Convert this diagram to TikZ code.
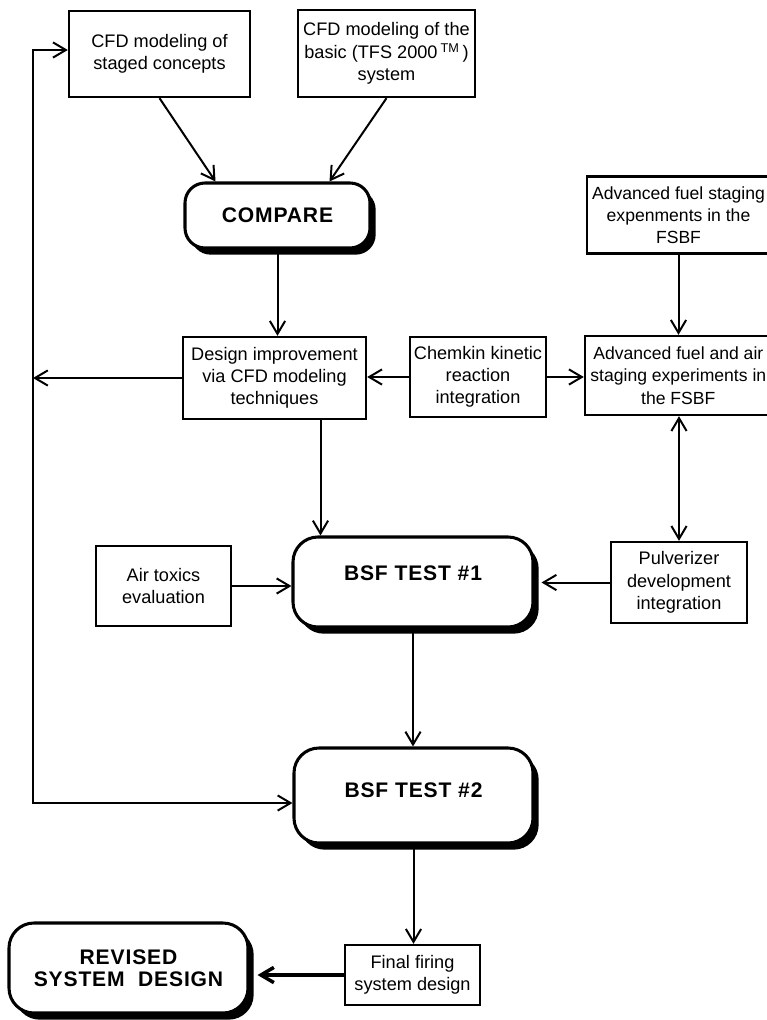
\documentclass[tikz,border=0pt]{standalone}
\usepackage{fontspec}
\setmainfont{Liberation Sans}
\usetikzlibrary{arrows.meta, calc, shadows}

\tikzset{
  box/.style={draw, line width=2pt, align=center, inner sep=2pt,
    font=\fontsize{15.5}{19}\selectfont},
  roundbox/.style={draw, line width=2.6pt, rounded corners=0.75cm, fill=white, align=center,
    font=\bfseries\fontsize{18}{19}\selectfont\addfontfeature{LetterSpace=4},
    drop shadow={shadow xshift=0.17cm, shadow yshift=-0.2cm, fill=black, opacity=1}},
  link/.style={line width=1.7pt, -{Straight Barb[length=11pt,width=13pt]}},
  dlink/.style={line width=1.7pt, {Straight Barb[length=11pt,width=13pt]}-{Straight Barb[length=11pt,width=13pt]}},
}

\begin{document}
\begin{tikzpicture}[x=0.03cm, y=-0.03cm]
  \useasboundingbox (0,0) rectangle (767,1020);
  \clip (0,0) rectangle (767,1020);

  \node[box, minimum width=5.43cm, minimum height=2.58cm] (staged) at (159.5,54) {CFD modeling of\\staged concepts};
  \node[box, minimum width=5.31cm, minimum height=2.61cm] (basic) at (386.5,53.5) {CFD modeling of the\\basic (TFS 2000\,\textsuperscript{TM}\,)\\system};
  \node[roundbox, rounded corners=0.6cm, minimum width=5.55cm, minimum height=1.95cm] (compare) at (277.5,215.5) {COMPARE};
  \node[box, minimum width=5.5cm, minimum height=2.3cm, font=\fontsize{15}{19}\selectfont] (fuelstage) at (678.5,215) {Advanced fuel staging\\expenments in the\\FSBF};

  \node[box, minimum width=5.49cm, minimum height=2.46cm] (design) at (274.5,378) {Design improvement\\via CFD modeling\\techniques};
  \node[box, minimum width=4.08cm, minimum height=2.4cm] (chemkin) at (478,377) {Chemkin kinetic\\reaction\\integration};
  \node[box, minimum width=5.6cm, minimum height=2.37cm, font=\fontsize{15}{19}\selectfont] (fuelair) at (678.3,375.5) {Advanced fuel and air\\staging experiments in\\the FSBF};

  \node[box, minimum width=4.05cm, minimum height=2.4cm] (toxics) at (163.5,586) {Air toxics\\evaluation};
  \node[roundbox, minimum width=7.2cm, minimum height=2.7cm, text depth=0.55cm] (test1) at (413,582) {BSF TEST \#1};
  \node[box, minimum width=4.08cm, minimum height=2.43cm] (pulv) at (679,582.5) {Pulverizer\\development\\integration};

  \node[roundbox, minimum width=7.17cm, minimum height=2.85cm, text depth=0.35cm] (test2) at (413.5,795.5) {BSF TEST \#2};

  \node[roundbox, minimum width=7.17cm, minimum height=2.7cm] (revised) at (128.5,968) {REVISED\\SYSTEM~~DESIGN};
  \node[box, minimum width=4.05cm, minimum height=1.8cm] (final) at (412.5,975) {Final firing\\system design};

  \coordinate (looptop) at (33,50);
  \coordinate (loopbot) at (33,803);
  \coordinate (dtap) at ($(design.south)+(46,0)$);

  \draw[link] (staged.south) -- ($(compare.north)+(-62,0)$);
  \draw[link] (basic.south) -- ($(compare.north)+(52,0)$);
  \draw[link] (compare.south) -- (compare.south |- design.north);
  \draw[link] (dtap) -- (dtap |- test1.north);
  \draw[link] (chemkin.west) -- (chemkin.west -| design.east);
  \draw[link] (chemkin.east) -- (chemkin.east -| fuelair.west);
  \draw[link] (design.west) -- (design.west -| looptop);
  \draw[link] (fuelstage.south) -- (fuelstage.south |- fuelair.north);
  \draw[dlink] (fuelair.south -| pulv.north) -- (pulv.north);
  \draw[link] (toxics.east) -- (toxics.east -| test1.west);
  \draw[link] (pulv.west) -- ($(pulv.west -| test1.east)+(7,0)$);
  \draw[link] (test1.south) -- (test1.south |- test2.north);
  \draw[link] (test2.south) -- (test2.south |- final.north);
  \draw[link, line width=3pt] (final.west) -- ($(final.west -| revised.east)+(8,0)$);
  \draw[dlink] (staged.west |- looptop) -- (looptop) -- (loopbot) -- (test2.west |- loopbot);
\end{tikzpicture}
\end{document}
